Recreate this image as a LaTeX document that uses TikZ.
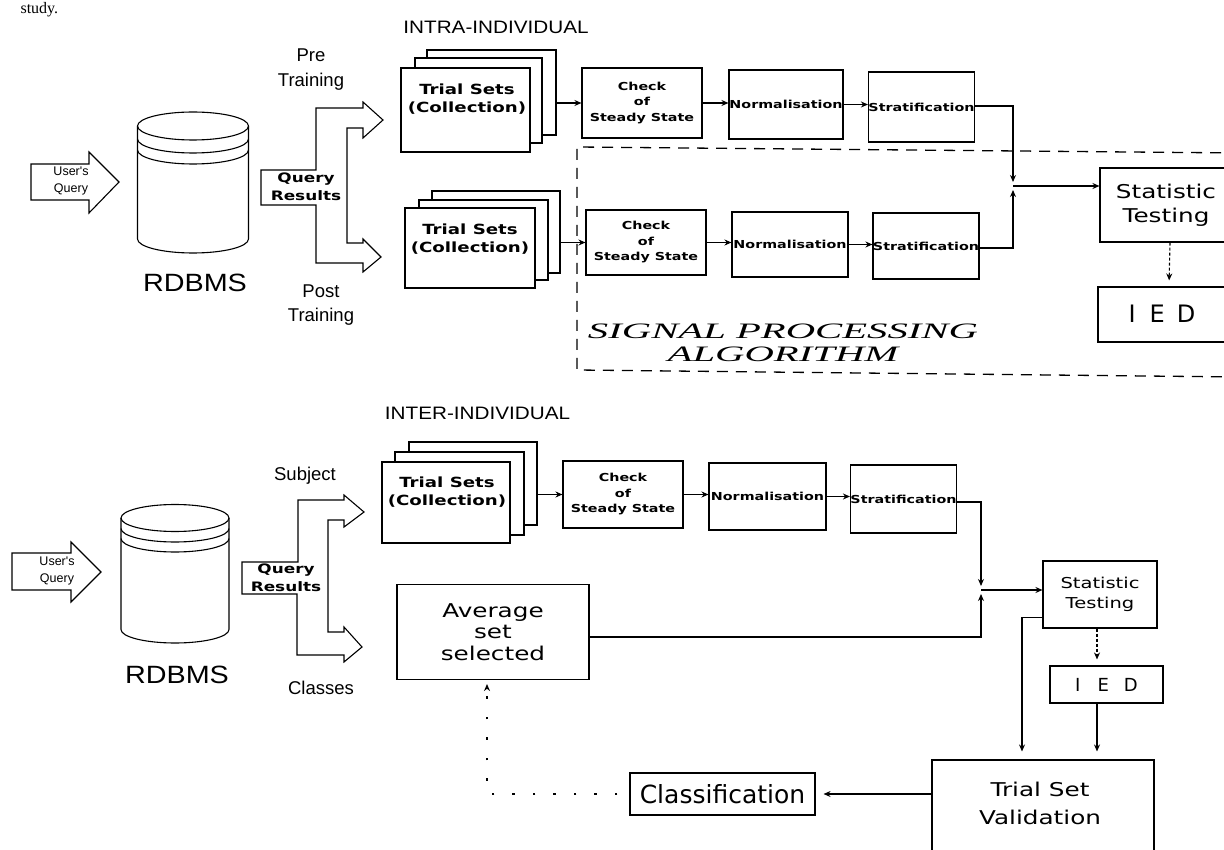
\documentclass[tikz,border=0pt]{standalone}
\usepackage{fontspec}
\setmainfont{Liberation Sans}
\newfontfamily\fA{Liberation Sans}
\newfontfamily\fAw[FakeStretch=1.15]{Liberation Sans}
\newfontfamily\fB[FakeStretch=1.3]{DejaVu Sans}
\newfontfamily\fC[FakeStretch=1.3]{DejaVu Sans}
\newfontfamily\fCl{DejaVu Sans}
\newfontfamily\fD[FakeStretch=1.85]{Liberation Serif}
\newfontfamily\fS{Liberation Serif}
\usetikzlibrary{arrows.meta,calc}
\begin{document}
\begin{tikzpicture}[x=1pt,y=-1pt,
  line width=1.1pt,
  >={Stealth[length=7pt,width=6pt]},
  box/.style={draw,rectangle,inner sep=0pt,align=center},
  layer/.style={draw,fill=white,rectangle,inner sep=0pt},
  small/.style={font=\fB\bfseries\fontsize{11}{15.5}\selectfont},
  setfont/.style={font=\fB\bfseries\fontsize{14}{18}\selectfont,align=center,inner sep=0pt},
  lab/.style={font=\fA\fontsize{18.5}{24.5}\selectfont,align=center,inner sep=0pt},
  dashbox/.style={dash pattern=on 11pt off 8pt,line width=1.3pt},
  dotline/.style={dash pattern=on 2.5pt off 18pt,line width=1.8pt},
  faint/.style={dash pattern=on 3pt off 2pt}
]
\useasboundingbox (0,0) rectangle (1224,850);
\fill[white] (0,0) rectangle (1224,850);

% text at the top edge
\node[anchor=base west,font=\fS\fontsize{16}{18}\selectfont,inner sep=0pt] (study) at (20,14) {study.};

% ================= INTRA-INDIVIDUAL =================
\node[font=\fAw\fontsize{18}{20}\selectfont,inner sep=0pt] (intra) at (496,27) {INTRA-INDIVIDUAL};

% User's query arrow
\draw (31,164) -- (89,164) -- (89,152) -- (119,182) -- (89,213) -- (89,200) -- (31,200) -- cycle;
\node[font=\fA\fontsize{12.5}{16.5}\selectfont,align=center,inner sep=0pt] (uq1) at (71,181) {User's\\Query};

% Cylinder
\draw (193,126) ellipse (55.5 and 14);
\draw (137.5,126) -- (137.5,239) arc (180:0:55.5 and 14) -- (248.5,126);
\draw (248.5,139) arc (0:180:55.5 and 14);
\draw (248.5,150) arc (0:180:55.5 and 14);
\node[font=\fAw\fontsize{25}{27}\selectfont,inner sep=0pt] (db1) at (195,283) {RDBMS};

% Query results fat arrow
\draw (261,170) -- (316,170) -- (316,108) -- (363,108) -- (363,102) -- (383,120) -- (363,138) -- (363,128)
  -- (347,128) -- (347,243) -- (363,243) -- (363,239) -- (381,257) -- (363,272) -- (363,263)
  -- (316,263) -- (316,205) -- (261,205) -- cycle;
\node[font=\fB\bfseries\fontsize{13}{18}\selectfont,align=center,inner sep=0pt] (qr1) at (306,187) {Query\\Results};
\node[lab] (pre) at (311,69.5) {Pre\\Training};
\node[lab] (post) at (321,305) {Post\\Training};

% Trial sets stacks
\node[layer,minimum width=129pt,minimum height=85pt] (ts1c) at (491.5,92.5) {};
\node[layer,minimum width=127pt,minimum height=85pt] (ts1b) at (478.5,100.5) {};
\node[layer,minimum width=129pt,minimum height=84pt] (ts1) at (465.5,110) {};
\node[setfont] (ts1t) at (467,99) {Trial Sets\\(Collection)};

\node[layer,minimum width=128pt,minimum height=82pt] (ts2c) at (496,232) {};
\node[layer,minimum width=129pt,minimum height=80pt] (ts2b) at (483.5,240) {};
\node[layer,minimum width=130pt,minimum height=80pt] (ts2) at (470,248) {};
\node[setfont] (ts2t) at (470,239) {Trial Sets\\(Collection)};

% processing boxes (upper)
\node[box,small,minimum width=120pt,minimum height=70pt] (ck1) at (642,103) {Check\\of\\Steady State};
\node[box,small,minimum width=114pt,minimum height=69pt] (nm1) at (786,104.5) {Normalisation};
\node[box,small,minimum width=105pt,minimum height=70pt] (sf1) at (921.5,107) {Stratification};
% processing boxes (lower)
\node[box,small,minimum width=120pt,minimum height=65pt] (ck2) at (646,242.5) {Check\\of\\Steady State};
\node[box,small,minimum width=116pt,minimum height=65pt] (nm2) at (790,244.5) {Normalisation};
\node[box,small,minimum width=106pt,minimum height=66pt] (sf2) at (926,246) {Stratification};

\draw[->] (ck1.west -| ts1c.east) -- (ck1.west);
\draw[->] (ck2.west -| ts2c.east) -- (ck2.west);
\draw[->] (ck1.east) -- (ck1.east -| nm1.west);
\draw[->] (nm1.east) -- (nm1.east -| sf1.west);
\draw[->] (ck2.east) -- (ck2.east -| nm2.west);
\draw[->] (nm2.east) -- (nm2.east -| sf2.west);

% merge to statistic testing
\coordinate (m1) at (1013,186);
\coordinate (m1a) at (1013,182);
\coordinate (m1b) at (1013,190);
\draw[->] (sf1.east |- 0,106) -| (m1a);
\draw[->] (sf2.east |- 0,248) -| (m1b);

\draw (1240,168) -- (1100,168) -- (1100,242) -- (1240,242);
\node[box,draw=none,minimum width=140pt,minimum height=74pt] (st1) at (1170,205) {};
\node[font=\fC\fontsize{19}{24}\selectfont,align=center,inner sep=0pt] (st1t) at (1166,205) {Statistic\\Testing};
\draw[->] (m1) -- (m1 -| st1.west);

\draw (1240,287) -- (1098,287) -- (1098,342) -- (1240,342);
\node[box,draw=none,minimum width=142pt,minimum height=55pt] (ied1) at (1169,314.5) {};
\node[font=\fCl\fontsize{24}{26}\selectfont,inner sep=0pt] (ied1t) at (1162,314) {I\kern14pt E\kern12pt D};
\draw[faint,->,shorten >=6pt] (st1.south) -- (ied1.north);

% Signal processing dashed frame
\draw[dashbox] (1240,153) -- (577,147) -- (577,370) -- (1240,377);
\node[font=\fD\itshape\fontsize{22}{23}\selectfont,align=center,inner sep=0pt] (spa) at (783,343) {SIGNAL PROCESSING\\ALGORITHM};

% ================= INTER-INDIVIDUAL =================
\node[font=\fAw\fontsize{18}{20}\selectfont,inner sep=0pt] (inter) at (477.5,413) {INTER-INDIVIDUAL};

\draw (12,553) -- (71,553) -- (71,542) -- (101,572) -- (71,602) -- (71,590) -- (12,590) -- cycle;
\node[font=\fA\fontsize{12.5}{16.5}\selectfont,align=center,inner sep=0pt] (uq2) at (57,571) {User's\\Query};

\draw (175,518) ellipse (54 and 13.5);
\draw (121,518) -- (121,629.5) arc (180:0:54 and 13.5) -- (229,518);
\draw (229,528.5) arc (0:180:54 and 13.5);
\draw (229,538.5) arc (0:180:54 and 13.5);
\node[font=\fAw\fontsize{25}{27}\selectfont,inner sep=0pt] (db2) at (177,675) {RDBMS};

\draw (242,562) -- (298,562) -- (298,500) -- (344,500) -- (344,495) -- (364,512) -- (344,527) -- (344,520)
  -- (328,520) -- (328,632) -- (344,632) -- (344,627) -- (362,647) -- (344,662) -- (344,655)
  -- (297,655) -- (297,594) -- (242,594) -- cycle;
\node[font=\fB\bfseries\fontsize{13}{18}\selectfont,align=center,inner sep=0pt] (qr2) at (286,578) {Query\\Results};
\node[lab] (subj) at (305,476) {Subject};
\node[lab] (cls) at (321,688) {Classes};

\node[layer,minimum width=128pt,minimum height=83pt] (ts3c) at (473,483.5) {};
\node[layer,minimum width=129pt,minimum height=83pt] (ts3b) at (459.5,493.5) {};
\node[layer,minimum width=128pt,minimum height=81pt] (ts3) at (446,502.5) {};
\node[setfont] (ts3t) at (447,492) {Trial Sets\\(Collection)};

\node[box,small,minimum width=120pt,minimum height=67pt] (ck3) at (623,494.5) {Check\\of\\Steady State};
\node[box,small,minimum width=117pt,minimum height=67pt] (nm3) at (767.5,496.5) {Normalisation};
\node[box,small,minimum width=105pt,minimum height=68pt] (sf3) at (903.5,499) {Stratification};
\draw[->] (ck3.west -| ts3c.east) -- (ck3.west);
\draw[->] (ck3.east) -- (ck3.east -| nm3.west);
\draw[->] (nm3.east) -- (nm3.east -| sf3.west);

\node[box,font=\fB\fontsize{19}{21.5}\selectfont,minimum width=192pt,minimum height=95pt] (avg) at (493,632) {Average\\set\\selected};

\coordinate (m2) at (981,590);
\coordinate (m2a) at (981,586);
\coordinate (m2b) at (981,594);
\draw[->] (sf3.east |- 0,502) -| (m2a);
\draw[->] (avg.east |- 0,637) -| (m2b);

\node[box,font=\fC\fontsize{15}{20}\selectfont,minimum width=114pt,minimum height=67pt] (st2) at (1100,594.5) {Statistic\\Testing};
\draw[->] (m2) -- (m2 -| st2.west);

\node[box,font=\fCl\fontsize{18}{20}\selectfont,minimum width=113pt,minimum height=37pt] (ied2) at (1106.5,684.5) {I\kern17pt E\kern15pt D};

\node[box,font=\fC\fontsize{19}{28}\selectfont,minimum width=222pt,minimum height=120pt] (val) at (1043,820) {};
\node[font=\fC\fontsize{19}{28}\selectfont,align=center,inner sep=0pt] (valt) at (1040,803) {Trial Set\\Validation};

\coordinate (vx1) at (1022,0);
\coordinate (vx2) at (1097,0);
\draw[faint,->,shorten >=6pt] (st2.south -| vx2) -- (vx2 |- ied2.north);
\draw[->,shorten >=8pt] (ied2.south -| vx2) -- (vx2 |- val.north);
\draw[->,shorten >=8pt] ($(st2.south west)+(0,-11)$) -| (vx1 |- val.north);

\node[box,font=\fCl\fontsize{25}{27}\selectfont,minimum width=185pt,minimum height=42pt] (clsf) at (722.5,794) {Classification};
\draw[->,shorten >=8pt] (clsf.east -| val.west) -- (clsf.east);

\coordinate (ax) at (487,0);
\draw[dotline] ([xshift=-12pt]clsf.west) -| ($(ax |- avg.south)+(0,14)$);
\draw[->,line width=1.1pt] ($(ax |- avg.south)+(0,8)$) -- ($(ax |- avg.south)+(0,4)$);
\end{tikzpicture}
\end{document}
